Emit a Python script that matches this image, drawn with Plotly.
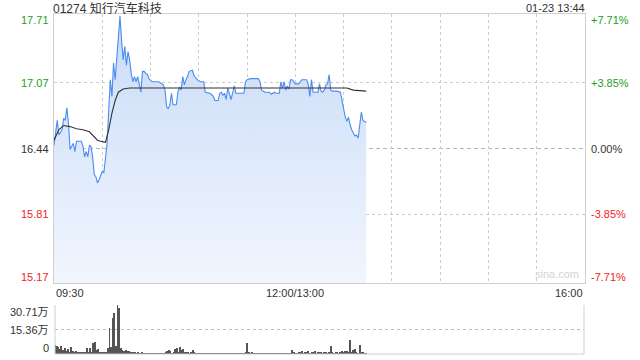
import plotly.graph_objects as go

# ---------------- data ----------------
title_text = "01274 知行汽车科技"
stamp_text = "01-23 13:44"
prev_close = 16.44
price_ticks = [17.71, 17.07, 16.44, 15.81, 15.17]
pct_ticks = ["+7.71%", "+3.85%", "0.00%", "-3.85%", "-7.71%"]
time_labels = ["09:30", "12:00/13:00", "16:00"]
time_label_min = [0, 150, 330]
vol_ticks = [30.71, 15.36, 0]
vol_tick_text = ["30.71万", "15.36万", "0"]

# trading minutes since 09:30 (lunch break removed)
price_min = [0, 2, 3, 5, 6, 7, 8, 9, 10, 12,
             13, 14, 15, 17, 18, 19, 20, 21, 22, 23,
             24, 25, 26, 27, 28, 29, 30, 31, 32, 33,
             34, 35, 36, 37, 38, 39, 40, 41, 42, 43,
             44, 45, 46, 47, 48, 49, 50, 51, 52, 53,
             54, 55, 56, 57, 58, 59, 61, 63, 65, 66,
             68, 69, 70, 71, 72, 73, 74, 76, 77, 78,
             79, 80, 81, 82, 83, 84, 86, 87, 89, 91,
             93, 94, 97, 99, 100, 102, 103, 104, 105, 106,
             107, 108, 109, 110, 111, 112, 113, 118, 119, 120,
             122, 127, 128, 129, 131, 134, 135, 137, 138, 140,
             141, 142, 143, 144, 145, 146, 147, 148, 150, 152,
             154, 155, 157, 158, 159, 160, 161, 162, 164, 165,
             166, 167, 168, 169, 170, 171, 172, 173, 176, 178,
             179, 180, 181, 182, 183, 184, 185, 187, 188, 189,
             190, 191, 192, 194]
price = [16.47, 16.71, 16.57, 16.62, 16.73, 16.71, 16.83, 16.68, 16.43, 16.49,
         16.41, 16.51, 16.51, 16.51, 16.46, 16.36, 16.41, 16.36, 16.47, 16.46,
         16.36, 16.19, 16.17, 16.11, 16.14, 16.19, 16.22, 16.21, 16.33, 16.49,
         16.81, 17.10, 16.94, 17.26, 17.10, 17.32, 17.48, 17.71, 17.48, 17.29,
         17.42, 17.24, 17.37, 17.29, 17.16, 17.08, 17.13, 17.08, 17.13, 17.05,
         16.98, 17.18, 17.18, 17.16, 17.15, 17.11, 17.08, 17.08, 17.08, 17.07,
         17.05, 17.00, 16.84, 16.82, 16.86, 16.97, 16.86, 16.86, 16.98, 17.03,
         17.00, 17.13, 17.05, 17.10, 17.13, 17.18, 17.19, 17.14, 17.10, 17.08,
         17.08, 16.98, 16.97, 16.94, 16.90, 16.90, 16.97, 16.98, 16.95, 16.97,
         16.91, 17.02, 16.97, 16.91, 16.97, 17.04, 16.97, 16.97, 17.08, 17.10,
         17.11, 17.11, 17.08, 17.00, 16.98, 16.98, 16.96, 16.98, 16.97, 16.97,
         17.08, 17.02, 17.08, 17.00, 17.04, 17.01, 17.10, 17.10, 17.06, 17.06,
         17.10, 17.10, 17.10, 17.05, 16.94, 17.10, 16.98, 16.98, 16.98, 17.06,
         16.99, 16.98, 17.00, 17.05, 17.06, 17.15, 17.00, 16.99, 16.99, 16.98,
         16.90, 16.81, 16.74, 16.70, 16.74, 16.67, 16.62, 16.56, 16.57, 16.54,
         16.65, 16.79, 16.71, 16.69]

avg_min = [0, 3, 6, 10, 14, 18, 22, 24, 27, 29, 32, 34, 36, 38, 40, 43, 47, 100, 150, 178, 182, 186, 194]
avg_price = [16.52, 16.62, 16.66, 16.65, 16.63, 16.62, 16.60, 16.57, 16.52, 16.51, 16.50, 16.62,
             16.78, 16.90, 16.98, 17.01, 17.02, 17.02, 17.02, 17.02, 17.02, 17.00, 16.99]

# volume per minute, in 万 shares
volume = [5.6, 5.0, 4.4, 3.1, 5.0, 2.5, 3.8, 1.9, 3.1, 1.3,
          4.2, 1.9, 1.3, 1.9, 1.3, 1.3, 0.8, 1.3, 0.9, 0.8,
          3.9, 1.2, 3.6, 1.5, 7.1, 7.7, 2.8, 3.3, 1.5, 0.8,
          0.8, 1.0, 1.3, 3.5, 16.1, 4.6, 22.5, 25.8, 5.0, 30.71,
          28.6, 4.0, 2.5, 2.1, 2.5, 1.8, 2.1, 1.2, 1.5, 0.9,
          1.2, 0.6, 1.0, 0.6, 0.8, 0.6, 0.4, 0.4, 0.5, 0.3,
          0.4, 0.3, 0.3, 0.5, 0.4, 0.4, 0.5, 0.6, 0.4, 0.8,
          2.1, 2.5, 1.9, 0.6, 1.5, 2.9, 3.6, 1.5, 4.2, 2.5,
          2.9, 1.3, 1.3, 1.0, 0.6, 1.0, 2.5, 1.0, 0.6, 0.5,
          0.4, 0.6, 0.5, 0.3, 0.5, 0.4, 0.6, 0.3, 0.5, 0.4,
          0.5, 0.4, 0.6, 0.3, 0.5, 0.4, 0.5, 0.6, 0.4, 0.5,
          0.4, 0.5, 0.3, 0.6, 0.4, 0.5, 0.4, 0.3, 0.5, 1.0,
          6.7, 1.2, 0.6, 0.8, 0.5, 0.4, 0.6, 0.4, 0.5, 0.3,
          0.5, 0.4, 0.6, 0.5, 0.3, 0.4, 0.5, 0.4, 0.3, 0.5,
          0.4, 0.5, 0.3, 0.6, 0.4, 0.5, 0.4, 0.6, 2.5, 0.8,
          0.6, 0.5, 1.3, 0.8, 1.6, 0.6, 1.3, 0.8, 1.9, 0.6,
          1.3, 0.8, 1.6, 0.5, 1.0, 0.8, 1.3, 0.6, 0.8, 1.0,
          0.6, 1.0, 5.0, 0.8, 0.6, 1.0, 0.8, 0.6, 1.3, 1.9,
          0.8, 1.6, 1.9, 1.0, 8.8, 0.8, 2.5, 3.3, 0.8, 0.6,
          5.6, 1.3, 1.3, 0.6, 0.4]
vol_min = list(range(len(volume)))

# ---------------- styling ----------------
FONT = "Liberation Sans, Arial, Noto Sans CJK SC, sans-serif"
GREEN = "#1e9e1e"
RED = "#f02424"
DARK = "#333333"
BORDER = "#cfcfcf"
GRID = "#cccccc"
LINE = "#4a8cf0"

tick_colors = [GREEN, GREEN, DARK, RED, RED]

fig = go.Figure()

fig.add_trace(go.Scatter(
    x=price_min, y=price, mode="lines",
    line=dict(color=LINE, width=1.1),
    fill="tozeroy",
    fillgradient=dict(type="vertical",
                      colorscale=[[0, "#f1f6fe"], [1, "#c9dbf7"]],
                      start=15.15, stop=17.73),
    hoverinfo="skip", xaxis="x", yaxis="y"))

fig.add_trace(go.Scatter(
    x=avg_min, y=avg_price, mode="lines",
    line=dict(color=DARK, width=1.1),
    hoverinfo="skip", xaxis="x", yaxis="y"))

fig.add_trace(go.Bar(
    x=vol_min, y=volume, width=0.6,
    marker=dict(color="#555555", line=dict(width=0)),
    hoverinfo="skip", xaxis="x2", yaxis="y2"))

x_dom = [54 / 640, 585 / 640]
fig.update_layout(
    width=640, height=360,
    margin=dict(l=0, r=0, t=0, b=0),
    paper_bgcolor="white", plot_bgcolor="white",
    showlegend=False, bargap=0,
    font=dict(family=FONT, size=11, color=DARK),
    xaxis=dict(domain=x_dom, range=[0, 330], tickvals=list(range(30, 330, 30)),
               showticklabels=False, ticks="", showgrid=True, gridcolor=GRID,
               griddash="dot", gridwidth=1, zeroline=False,
               showline=True, linecolor=BORDER, mirror=True, fixedrange=True),
    yaxis=dict(domain=[1 - 283 / 360, 1 - 14 / 360], range=[15.15, 17.73],
               tickvals=[17.07, 15.81], showticklabels=False, ticks="",
               showgrid=True, gridcolor=GRID, griddash="dot", zeroline=False,
               showline=True, linecolor=BORDER, mirror=True, fixedrange=True),
    xaxis2=dict(domain=[55 / 640, 584 / 640], range=[0, 330], anchor="y2",
                showticklabels=False, ticks="", showgrid=False, zeroline=False,
                showline=False, fixedrange=True),
    yaxis2=dict(domain=[1 - 354 / 360, 1 - 305 / 360], range=[0, 30.71], anchor="x2",
                tickvals=[15.36, 30.71], showticklabels=False, ticks="",
                showgrid=True, gridcolor="#bbbbbb", griddash="dot", zeroline=False,
                showline=False, fixedrange=True),
)

# previous close dashed line
fig.add_shape(type="line", xref="x domain", yref="y", x0=0, x1=1,
              y0=prev_close, y1=prev_close,
              line=dict(color="#b4b4b4", width=1, dash="4px,3px"), layer="below")

# volume panel frame: left, right, bottom solid
for (x0, x1, y0, y1) in [(0, 0, 0, 1), (1, 1, 0, 1), (0, 1, 0, 0)]:
    fig.add_shape(type="line", xref="x2 domain", yref="y2 domain",
                  x0=x0, x1=x1, y0=y0, y1=y1,
                  line=dict(color=BORDER, width=1))

# price tick labels (left) and percent labels (right)
label_shift = [-4, 0, 0, 0, 4]
for v, pct, col, sh in zip(price_ticks, pct_ticks, tick_colors, label_shift):
    fig.add_annotation(x=0, xref="x domain", xanchor="right", xshift=-3,
                       y=v, yref="y", yshift=sh, text=f"{v:.2f}", showarrow=False,
                       font=dict(size=11, color=col, family=FONT))
    fig.add_annotation(x=1, xref="x domain", xanchor="left", xshift=4,
                       y=v, yref="y", yshift=sh, text=pct, showarrow=False,
                       font=dict(size=11, color=col, family=FONT))

# time labels
anchors = ["left", "center", "right"]
for t, m, a in zip(time_labels, time_label_min, anchors):
    fig.add_annotation(x=m, xref="x", xanchor=a, y=0, yref="y domain",
                       yanchor="top", yshift=-2, text=t, showarrow=False,
                       font=dict(size=11, color=DARK, family=FONT))

# volume labels (placed in page pixels: label rows at 312, 330, 348 px from top)
vol_label_px = [312, 330, 348]
for t, py in zip(vol_tick_text, vol_label_px):
    fig.add_annotation(x=0, xref="x2 domain", xanchor="right", xshift=-4,
                       y=1 - py / 360, yref="paper", yanchor="middle",
                       text=t, showarrow=False,
                       font=dict(size=11, color=DARK, family=FONT))

# title and timestamp
fig.add_annotation(x=0, xref="x domain", xanchor="left", xshift=-3,
                   y=1 - 8 / 360, yref="paper", yanchor="middle",
                   text=title_text, showarrow=False,
                   font=dict(size=12, color=DARK, family=FONT))
fig.add_annotation(x=1, xref="x domain", xanchor="right", xshift=2,
                   y=1 - 8 / 360, yref="paper", yanchor="middle",
                   text=stamp_text, showarrow=False,
                   font=dict(size=11, color=DARK, family=FONT))

# watermark
fig.add_annotation(x=1, xref="x domain", xanchor="right", xshift=-4,
                   y=0, yref="y domain", yanchor="bottom", yshift=1,
                   text="sina.com", showarrow=False,
                   font=dict(size=11, color="#d4d4d4", family=FONT))

fig.write_html("out.html", config={"displayModeBar": False})
